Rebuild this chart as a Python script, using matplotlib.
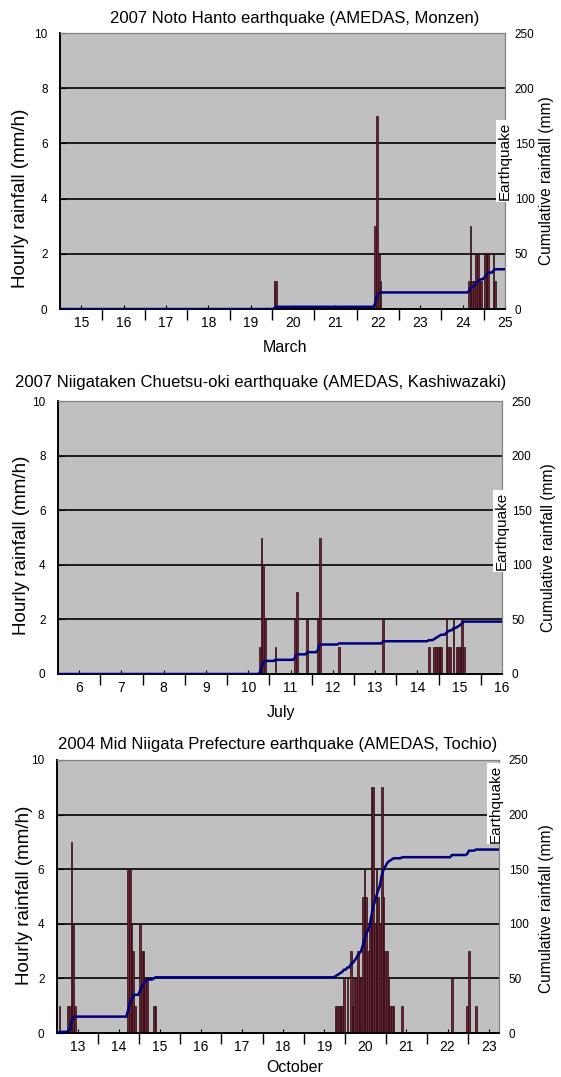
import numpy as np
import matplotlib
matplotlib.use("Agg")
import matplotlib.pyplot as plt
from matplotlib.ticker import NullFormatter

plt.rcParams['font.family'] = ['Liberation Sans', 'DejaVu Sans']

# --- data: hourly rainfall (mm/h) by day and hour ---
# 2007 Noto Hanto, Monzen (March)
noto_day = [20, 20, 22, 22, 22, 22, 24, 24, 24, 24, 24, 24, 24, 24, 25, 25, 25, 25, 25]
noto_hour = [1, 2, 10, 11, 12, 13, 15, 16, 17, 18, 19, 20, 21, 22, 0, 1, 2, 5, 6]
noto_rain = [1, 1, 3, 7, 2, 1, 1, 3, 1, 1, 2, 2, 1, 1, 2, 2, 2, 2, 1]
noto_labels = list(range(15, 26))

# 2007 Niigataken Chuetsu-oki, Kashiwazaki (July)
kashi_day = [10, 10, 10, 10, 11, 11, 11, 11, 12, 12, 12, 13, 14, 14, 14, 14,
             15, 15, 15, 15, 15, 15, 15, 15, 15, 15, 15]
kashi_hour = [18, 19, 20, 21, 3, 14, 15, 21, 3, 4, 15, 16, 18, 21, 22, 23,
              0, 1, 4, 5, 6, 8, 10, 11, 12, 13, 14]
kashi_rain = [1, 5, 4, 2, 1, 2, 3, 2, 2, 5, 1, 2, 1, 1, 1, 1,
              1, 1, 2, 1, 1, 2, 1, 1, 1, 2, 1]
kashi_labels = list(range(6, 17))

# 2004 Mid Niigata, Tochio (October)
tochio_day = ([13] * 6 + [14] * 5 + [15] * 7 + [19] * 6 + [20] * 22 + [21] * 6
              + [22, 22, 23, 23])
tochio_hour = ([1, 6, 7, 8, 9, 10] + [17, 18, 19, 20, 21] + [0, 1, 2, 3, 4, 8, 9]
               + [18, 19, 20, 21, 22, 23]
               + [1, 3, 4, 5, 6, 7, 8, 9, 10, 11, 12, 13, 14, 15, 16, 17, 18, 19, 20, 21, 22, 23]
               + [0, 1, 2, 3, 4, 9] + [14, 23, 0, 4])
tochio_rain = ([1, 1, 1, 7, 4, 1] + [6, 6, 4, 3, 1] + [4, 3, 3, 2, 2, 1, 1]
               + [1, 1, 1, 1, 1, 2]
               + [2, 3, 1, 2, 2, 3, 2, 2, 5, 6, 5, 3, 4, 9, 9, 4, 6, 5, 4, 9, 5, 3]
               + [3, 2, 1, 1, 1, 1] + [2, 1, 3, 1])
tochio_labels = list(range(13, 24))

W, H = 561, 1077
fig = plt.figure(figsize=(W / 100, H / 100), dpi=100)


def ftext(x, y, s, **kw):
    fig.text(x / W, 1 - y / H, s, ha='center', va='center', **kw)


def panel(box, start, ndays, days, hours, rain, labels, quake):
    left, top, right, bottom = box
    ax = fig.add_axes([left / W, 1 - bottom / H, (right - left) / W, (bottom - top) / H])
    ax2 = ax.twinx()

    n = int(round(ndays * 24))
    idx = (np.array(days) - start) * 24 + np.array(hours)
    hourly = np.zeros(n)
    np.add.at(hourly, idx, rain)

    ax.set_facecolor('#c0c0c0')
    ax.bar(start + idx / 24, rain, width=1 / 24, align='edge',
           color='#6b2433', edgecolor='#2b0b12', linewidth=0.5, zorder=2)
    ax2.plot(start + (np.arange(n) + 0.5) / 24, np.cumsum(hourly),
             color='#00007f', lw=1.8, zorder=3)

    ax.set_xlim(start, start + ndays)
    ax.set_ylim(0, 10)
    ax2.set_ylim(0, 250)
    ax.set_yticks(range(0, 11, 2))
    ax2.set_yticks(range(0, 251, 50))
    ax.yaxis.grid(True, color='black', lw=1.2)
    ax.set_axisbelow(True)

    ax.set_xticks(np.arange(start + 1, start + ndays + 0.01, 1))
    ax.xaxis.set_major_formatter(NullFormatter())
    ax.set_xticks([d + 0.5 for d in labels], minor=True)
    ax.set_xticklabels([str(d) for d in labels], minor=True)
    ax.tick_params(axis='x', which='major', direction='out', length=8, width=1)
    ax.tick_params(axis='x', which='minor', direction='in', length=3, width=0.8,
                   pad=5, labelsize=10)
    ax.tick_params(axis='y', direction='in', length=4, pad=9, labelsize=8.5)
    ax2.tick_params(axis='y', length=0, pad=7, labelsize=8.5)

    for a in (ax, ax2):
        a.spines['top'].set_color('#808080')
        a.spines['right'].set_color('#808080')
        a.spines['left'].set_linewidth(1.2)
        a.spines['bottom'].set_linewidth(1.2)

    ax2.text(quake[0], quake[1], 'Earthquake', transform=ax2.transAxes,
             rotation=90, ha='center', va='center', fontsize=11, zorder=10,
             bbox=dict(facecolor='white', edgecolor='none', pad=1.2), clip_on=False)
    return ax


panel((60, 33, 505, 309), 15, 10.5, noto_day, noto_hour, noto_rain, noto_labels, (1.0, 0.536))
ftext(295, 18, '2007 Noto Hanto earthquake (AMEDAS, Monzen)', fontsize=12)
ftext(285, 348, 'March', fontsize=11.5)
ftext(21, 198, 'Hourly rainfall (mm/h)', fontsize=13.5, rotation=90)
ftext(547, 181, 'Cumulative rainfall (mm)', fontsize=11.2, rotation=90)

panel((58, 401, 502, 674), 6, 10.5, kashi_day, kashi_hour, kashi_rain, kashi_labels, (1.0, 0.524))
ftext(261, 383, '2007 Niigataken Chuetsu-oki earthquake (AMEDAS, Kashiwazaki)', fontsize=12)
ftext(281, 712, 'July', fontsize=11.5)
ftext(22, 545, 'Hourly rainfall (mm/h)', fontsize=13.5, rotation=90)
ftext(549, 548, 'Cumulative rainfall (mm)', fontsize=11.2, rotation=90)

panel((57, 760, 499, 1033), 13, 10.75, tochio_day, tochio_hour, tochio_rain, tochio_labels, (0.993, 0.84))
ftext(278, 745, '2004 Mid Niigata Prefecture earthquake (AMEDAS, Tochio)', fontsize=12)
ftext(295, 1068, 'October', fontsize=11.5)
ftext(25, 895, 'Hourly rainfall (mm/h)', fontsize=13.5, rotation=90)
ftext(546, 909, 'Cumulative rainfall (mm)', fontsize=11.2, rotation=90)

fig.savefig('out.png', dpi=100)
